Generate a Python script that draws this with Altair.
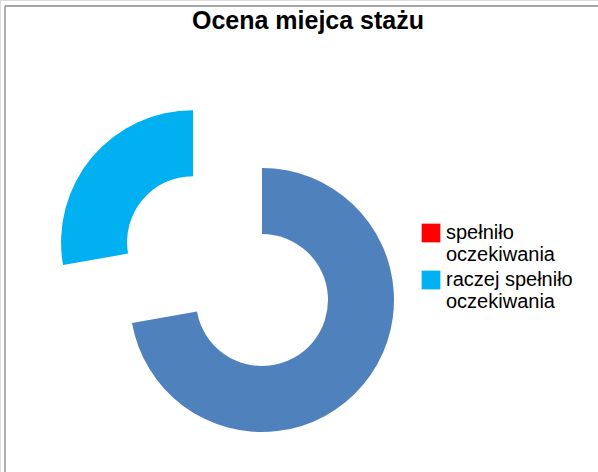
import altair as alt
import pandas as pd

# ---- data ----
categories = ["zdecydowanie spełniło oczekiwania", "spełniło oczekiwania", "raczej spełniło oczekiwania"]
values = [13, 0, 5]
colors = ["#4F81BD", "#FF0000", "#00B0F0"]
legend_entries = ["spełniło oczekiwania", "raczej spełniło oczekiwania"]
exploded = "raczej spełniło oczekiwania"

# ---- layout constants ----
W, H = 598, 472
CX, CY = 262, 300
R_OUT, R_IN = 132, 66
EXPLODE = 90

df = pd.DataFrame({"cat": categories, "value": values, "idx": list(range(len(categories)))})

donut = (
    alt.Chart(df)
    .transform_joinaggregate(total="sum(value)")
    .transform_window(cum="sum(value)", sort=[alt.SortField("idx")], frame=[None, 0])
    .transform_calculate(
        start="(datum.cum - datum.value) / datum.total * 2 * PI",
        end="datum.cum / datum.total * 2 * PI",
    )
    .transform_calculate(
        mid="(datum.start + datum.end) / 2",
        off=f"datum.cat == '{exploded}' ? {EXPLODE} : 0",
    )
    .transform_calculate(
        px=f"{CX} + datum.off * sin(datum.mid)",
        py=f"{CY} - datum.off * cos(datum.mid)",
    )
    .mark_arc(radius=R_OUT, radius2=R_IN)
    .encode(
        x=alt.X("px:Q", scale=None),
        y=alt.Y("py:Q", scale=None),
        theta=alt.Theta("start:Q", scale=None),
        theta2="end:Q",
        color=alt.Color(
            "cat:N",
            scale=alt.Scale(domain=categories, range=colors),
            legend=alt.Legend(
                title=None,
                values=legend_entries,
                orient="none",
                legendX=421,
                legendY=223,
                padding=0,
                symbolType="square",
                symbolSize=350,
                symbolStrokeWidth=0,
                symbolOpacity=1,
                labelFont="Liberation Sans",
                labelFontSize=20,
                labelColor="#000000",
                labelOffset=5,
                labelLimit=300,
                rowPadding=5,
                labelExpr="split(replace(datum.label, ' oczekiwania', '|oczekiwania'), '|')",
            ),
        ),
    )
)

frame_df = pd.DataFrame({"k": [0]})
left_border = alt.Chart(frame_df).mark_rule(color="#888888", strokeWidth=1.3).encode(
    x=alt.value(5), y=alt.value(6), y2=alt.value(H)
)
top_border = alt.Chart(frame_df).mark_rule(color="#888888", strokeWidth=1.3).encode(
    x=alt.value(5), x2=alt.value(W), y=alt.value(6)
)

chart = (
    alt.layer(left_border, top_border, donut)
    .properties(
        width=W,
        height=H,
        autosize=alt.AutoSizeParams(type="none"),
        padding=0,
        title=alt.TitleParams(
            "Ocena miejca stażu",
            font="Liberation Sans",
            fontSize=25,
            fontWeight="bold",
            color="#000000",
            anchor="middle",
            dx=9,
            dy=38,
        ),
    )
    .configure_view(stroke=None)
    .configure(background="white")
)

chart.save("out.html", embed_options={"renderer": "svg", "actions": False})
